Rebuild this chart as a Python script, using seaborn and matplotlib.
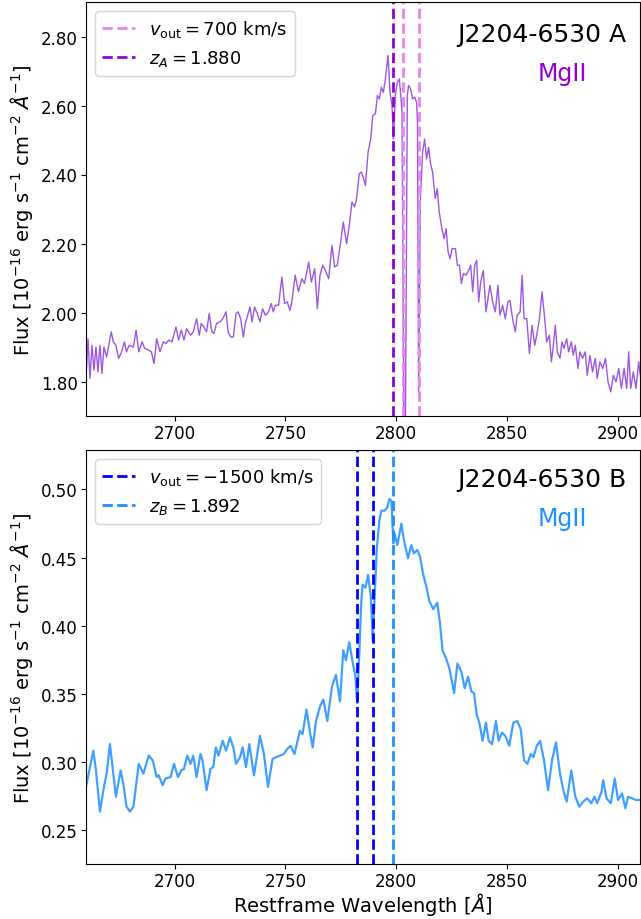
import numpy as np
import pandas as pd
import matplotlib
matplotlib.use("Agg")
import matplotlib.pyplot as plt
import seaborn as sns
from matplotlib.ticker import FormatStrFormatter

# --- J2204-6530 A (restframe wavelength [A], flux [1e-16 erg/s/cm2/A]) ---
wave_a = [
    2660.0, 2660.9, 2661.8, 2662.7, 2663.6, 2664.5, 2665.4, 2666.3, 2667.2, 2668.1,
    2669.3, 2671.4, 2672.3, 2673.5, 2674.7, 2676.1, 2677.3, 2678.3, 2679.5, 2681.4,
    2682.6, 2683.8, 2685.3, 2686.5, 2688.3, 2689.5, 2690.7, 2691.9, 2693.4, 2694.9,
    2696.1, 2697.3, 2698.8, 2700.6, 2701.8, 2703.0, 2704.2, 2705.4, 2707.2, 2708.4,
    2709.9, 2711.1, 2712.0, 2713.2, 2714.4, 2715.6, 2716.8, 2717.7, 2718.9, 2720.5,
    2721.7, 2723.2, 2724.1, 2725.3, 2726.5, 2727.7, 2728.6, 2729.8, 2731.0, 2731.9,
    2734.0, 2734.9, 2736.1, 2737.3, 2738.5, 2739.7, 2740.9, 2742.4, 2743.6, 2744.5,
    2745.4, 2746.9, 2748.4, 2749.6, 2750.8, 2752.0, 2752.9, 2754.4, 2755.9, 2757.4,
    2758.6, 2760.5, 2761.7, 2763.2, 2764.4, 2765.6, 2766.8, 2768.0, 2769.5, 2771.0,
    2772.2, 2773.4, 2774.6, 2776.1, 2777.6, 2778.8, 2780.0, 2781.2, 2782.1, 2783.3,
    2784.2, 2785.1, 2786.1, 2787.3, 2788.5, 2789.4, 2790.6, 2791.5, 2792.4, 2793.3,
    2794.2, 2795.1, 2796.3, 2797.2, 2798.1, 2798.7, 2799.6, 2800.5, 2801.4, 2802.3,
    2802.6, 2803.5, 2804.1, 2805.0, 2805.6, 2806.5, 2807.4, 2808.3, 2809.2, 2809.6,
    2810.1, 2810.9, 2811.9, 2812.8, 2813.7, 2814.6, 2815.5, 2816.4, 2817.6, 2818.5,
    2819.4, 2820.6, 2821.6, 2822.5, 2823.4, 2824.3, 2825.2, 2826.7, 2827.6, 2828.5,
    2829.4, 2830.3, 2831.5, 2832.7, 2833.6, 2834.5, 2835.4, 2836.3, 2837.2, 2838.1,
    2839.3, 2840.5, 2841.4, 2842.3, 2843.5, 2844.7, 2845.9, 2846.8, 2848.0, 2849.2,
    2850.4, 2851.3, 2852.5, 2853.7, 2854.6, 2855.9, 2856.8, 2857.7, 2858.9, 2860.1,
    2861.3, 2862.5, 2863.4, 2864.6, 2865.8, 2867.0, 2867.9, 2869.1, 2870.0, 2870.9,
    2871.8, 2872.7, 2873.9, 2874.8, 2875.7, 2876.9, 2877.8, 2879.0, 2879.9, 2880.8,
    2882.0, 2882.9, 2884.1, 2885.3, 2886.2, 2887.4, 2888.6, 2889.8, 2890.7, 2891.9,
    2893.2, 2894.4, 2895.6, 2896.8, 2898.0, 2899.2, 2900.4, 2901.6, 2902.8, 2904.0,
    2904.9, 2905.8, 2907.0, 2908.2, 2909.4, 2910.5,
]
flux_a = [
    1.809, 1.924, 1.809, 1.905, 1.833, 1.900, 1.828, 1.905, 1.823, 1.900,
    1.871, 1.944, 1.915, 1.905, 1.867, 1.886, 1.915, 1.886, 1.905, 1.900,
    1.949, 1.886, 1.915, 1.896, 1.891, 1.886, 1.852, 1.924, 1.886, 1.915,
    1.910, 1.920, 1.915, 1.958, 1.920, 1.949, 1.920, 1.953, 1.934, 1.944,
    1.982, 1.934, 1.968, 1.958, 1.944, 1.997, 1.944, 1.939, 1.968, 1.973,
    1.982, 2.002, 1.944, 1.929, 1.929, 1.997, 2.002, 1.982, 1.929, 1.968,
    2.016, 1.973, 2.016, 1.997, 1.973, 2.011, 1.992, 2.002, 2.026, 2.002,
    2.021, 2.021, 2.103, 2.026, 2.031, 2.006, 2.031, 2.108, 2.060, 2.098,
    2.084, 2.146, 2.088, 2.127, 2.011, 2.108, 2.137, 2.122, 2.098, 2.195,
    2.132, 2.137, 2.190, 2.262, 2.199, 2.252, 2.320, 2.306, 2.330, 2.402,
    2.407, 2.392, 2.368, 2.465, 2.503, 2.571, 2.576, 2.629, 2.619, 2.653,
    2.638, 2.677, 2.745, 2.638, 2.600, 2.503, 2.629, 2.667, 2.677, 2.609,
    2.580, 1.620, 1.620, 2.630, 2.658, 2.648, 2.619, 2.624, 2.609, 2.550,
    1.760, 2.330, 2.465, 2.503, 2.445, 2.479, 2.431, 2.407, 2.330, 2.359,
    2.291, 2.243, 2.214, 2.243, 2.175, 2.156, 2.185, 2.185, 2.137, 2.137,
    2.084, 2.113, 2.108, 2.122, 2.137, 2.060, 2.137, 2.151, 2.031, 2.088,
    2.122, 2.002, 2.040, 2.079, 2.031, 2.002, 2.079, 1.992, 2.021, 1.982,
    2.031, 2.035, 1.982, 1.944, 1.992, 2.002, 2.108, 1.982, 1.982, 1.881,
    1.963, 1.905, 1.934, 1.982, 2.060, 1.982, 1.915, 1.934, 1.857, 1.905,
    1.963, 1.886, 1.867, 1.915, 1.896, 1.924, 1.886, 1.915, 1.876, 1.905,
    1.838, 1.886, 1.867, 1.886, 1.818, 1.876, 1.828, 1.867, 1.809, 1.857,
    1.838, 1.867, 1.799, 1.770, 1.818, 1.799, 1.838, 1.780, 1.838, 1.780,
    1.886, 1.780, 1.828, 1.780, 1.857, 1.800,
]

# --- J2204-6530 B ---
wave_b = [
    2660.0, 2661.5, 2663.3, 2664.5, 2666.3, 2668.1, 2669.3, 2670.8, 2672.3, 2673.5,
    2675.6, 2676.8, 2678.3, 2679.8, 2681.4, 2683.8, 2685.9, 2688.3, 2690.1, 2691.9,
    2692.8, 2694.6, 2695.8, 2698.2, 2699.7, 2701.5, 2703.0, 2704.2, 2705.7, 2707.2,
    2708.4, 2709.9, 2711.7, 2712.6, 2714.4, 2716.2, 2717.4, 2718.6, 2719.8, 2721.7,
    2723.2, 2725.0, 2726.5, 2727.7, 2729.5, 2730.7, 2732.2, 2733.7, 2735.8, 2737.3,
    2738.5, 2740.3, 2742.1, 2744.2, 2745.7, 2747.5, 2749.3, 2750.8, 2752.3, 2754.1,
    2756.5, 2757.7, 2759.5, 2761.1, 2762.3, 2763.8, 2765.6, 2767.1, 2768.9, 2771.0,
    2772.8, 2774.6, 2776.1, 2777.3, 2778.8, 2780.3, 2781.5, 2782.4, 2783.3, 2784.2,
    2784.8, 2786.1, 2787.3, 2788.5, 2789.4, 2790.3, 2791.2, 2792.4, 2793.3, 2794.8,
    2796.0, 2796.9, 2797.8, 2798.7, 2799.3, 2800.5, 2802.3, 2803.5, 2805.3, 2806.8,
    2808.0, 2809.5, 2810.7, 2812.2, 2813.7, 2814.9, 2816.7, 2818.5, 2819.7, 2820.9,
    2822.5, 2824.0, 2826.1, 2827.6, 2829.4, 2830.9, 2832.4, 2833.9, 2835.1, 2836.3,
    2837.5, 2839.0, 2840.5, 2841.7, 2843.2, 2845.0, 2846.2, 2847.7, 2849.2, 2851.0,
    2852.8, 2854.6, 2856.2, 2857.7, 2859.2, 2860.7, 2861.9, 2863.4, 2864.9, 2866.7,
    2868.5, 2870.3, 2872.1, 2873.9, 2875.4, 2876.9, 2879.0, 2880.8, 2882.6, 2884.4,
    2886.2, 2888.0, 2889.5, 2890.7, 2892.6, 2893.4, 2894.9, 2896.8, 2898.6, 2900.1,
    2901.9, 2903.4, 2904.6, 2906.4, 2908.2, 2910.0,
]
flux_b = [
    0.2816, 0.2937, 0.3082, 0.2937, 0.2635, 0.2816, 0.2913, 0.3130, 0.2913, 0.2744,
    0.2937, 0.2841, 0.2671, 0.2635, 0.2671, 0.2986, 0.2913, 0.3046, 0.3010, 0.2889,
    0.2901, 0.2829, 0.2877, 0.2889, 0.2986, 0.2889, 0.2937, 0.2949, 0.3046, 0.2986,
    0.3046, 0.2889, 0.3058, 0.3010, 0.2792, 0.2949, 0.2961, 0.3106, 0.3046, 0.3155,
    0.3082, 0.3179, 0.3106, 0.2986, 0.3034, 0.3106, 0.2961, 0.3130, 0.2901, 0.3058,
    0.3191, 0.3058, 0.2816, 0.3022, 0.3034, 0.3046, 0.3058, 0.3094, 0.3118, 0.3058,
    0.3227, 0.3203, 0.3384, 0.3215, 0.3106, 0.3300, 0.3408, 0.3457, 0.3300, 0.3553,
    0.3638, 0.3444, 0.3819, 0.3746, 0.3879, 0.3734, 0.3638, 0.3432, 0.3783, 0.4169,
    0.4302, 0.4278, 0.4374, 0.4217, 0.3891, 0.4217, 0.4556, 0.4773, 0.4845, 0.4845,
    0.4870, 0.4930, 0.4918, 0.4604, 0.4676, 0.4592, 0.4749, 0.4628, 0.4495, 0.4592,
    0.4531, 0.4556, 0.4507, 0.4374, 0.4278, 0.4181, 0.4121, 0.4169, 0.4024, 0.3819,
    0.3758, 0.3686, 0.3505, 0.3722, 0.3662, 0.3541, 0.3626, 0.3517, 0.3505, 0.3348,
    0.3287, 0.3155, 0.3287, 0.3155, 0.3130, 0.3300, 0.3155, 0.3215, 0.3191, 0.3118,
    0.3287, 0.3300, 0.3239, 0.3010, 0.2986, 0.3058, 0.3034, 0.3118, 0.3155, 0.3010,
    0.2792, 0.3010, 0.3143, 0.2913, 0.2792, 0.2708, 0.2937, 0.2744, 0.2671, 0.2708,
    0.2732, 0.2696, 0.2744, 0.2696, 0.2780, 0.2865, 0.2732, 0.2696, 0.2877, 0.2720,
    0.2768, 0.2659, 0.2744, 0.2732, 0.2720, 0.2720,
]

# line positions
mg_mean = 2798.75
vout_a_lines = [2802.9, 2810.1]     # v_out = +700 km/s
vout_b_lines = [2782.4, 2789.5]     # v_out = -1500 km/s

df_a = pd.DataFrame({"wave": wave_a, "flux": flux_a})
df_b = pd.DataFrame({"wave": wave_b, "flux": flux_b})

fig, (ax1, ax2) = plt.subplots(2, 1, figsize=(6.41, 9.2), dpi=100)
ax1.set_position([86 / 641, 1 - 417 / 920, 554 / 641, 414 / 920])
ax2.set_position([86 / 641, 1 - 865 / 920, 554 / 641, 414 / 920])

# top panel
sns.lineplot(data=df_a, x="wave", y="flux", ax=ax1, color="#8a3be2",
             alpha=0.85, linewidth=1.0, estimator=None)
for i, w in enumerate(vout_a_lines):
    ax1.axvline(w, color="violet", ls="--", lw=2,
                label=r"$v_{\rm out} = 700$ km/s" if i == 0 else None)
ax1.axvline(mg_mean, color="darkviolet", ls="--", lw=2, label=r"$z_A = 1.880$")
ax1.set_xlim(2660, 2910)
ax1.set_ylim(1.70, 2.90)
ax1.text(0.975, 0.905, "J2204-6530 A", transform=ax1.transAxes, ha="right",
         va="baseline", fontsize=18)
ax1.text(0.859, 0.812, "MgII", transform=ax1.transAxes, ha="center",
         va="baseline", fontsize=17, color="darkviolet")
ax1.legend(loc="upper left", fontsize=13, handlelength=1.8)

# bottom panel
sns.lineplot(data=df_b, x="wave", y="flux", ax=ax2, color="dodgerblue",
             alpha=0.85, linewidth=1.6, estimator=None)
for i, w in enumerate(vout_b_lines):
    ax2.axvline(w, color="blue", ls="--", lw=2,
                label=r"$v_{\rm out} = -1500$ km/s" if i == 0 else None)
ax2.axvline(mg_mean, color="dodgerblue", ls="--", lw=2, label=r"$z_B = 1.892$")
ax2.set_xlim(2660, 2910)
ax2.set_ylim(0.225, 0.529)
ax2.text(0.975, 0.912, "J2204-6530 B", transform=ax2.transAxes, ha="right",
         va="baseline", fontsize=18)
ax2.text(0.859, 0.818, "MgII", transform=ax2.transAxes, ha="center",
         va="baseline", fontsize=17, color="dodgerblue")
ax2.legend(loc="upper left", fontsize=13, handlelength=1.8)

ylab = r"Flux [$10^{-16}$ erg s$^{-1}$ cm$^{-2}$ $\AA^{-1}$]"
for ax in (ax1, ax2):
    ax.set_ylabel(ylab, fontsize=14)
    ax.set_xlabel("")
    ax.tick_params(labelsize=12, length=3.5, pad=2.5)
    ax.yaxis.set_major_formatter(FormatStrFormatter("%.2f"))
ax2.set_xlabel(r"Restframe Wavelength [$\AA$]", fontsize=14, labelpad=0)

fig.savefig("out.png", dpi=100)
